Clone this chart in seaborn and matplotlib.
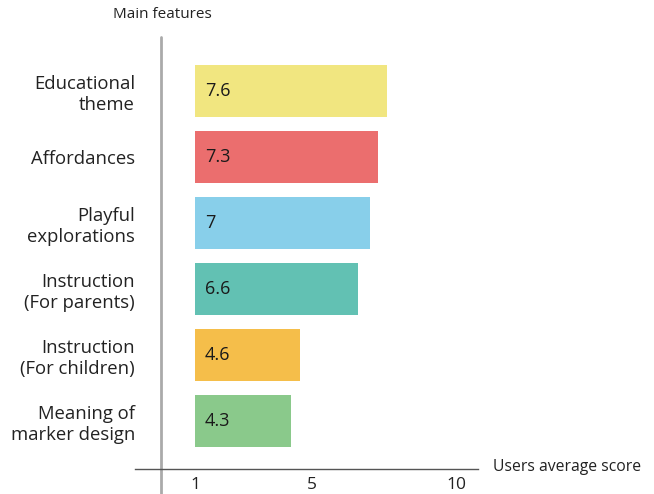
import matplotlib.pyplot as plt
import seaborn as sns
import pandas as pd

# Data
features = ["Educational\ntheme", "Affordances", "Playful\nexplorations",
            "Instruction\n(For parents)", "Instruction\n(For children)",
            "Meaning of\nmarker design"]
scores = [7.6, 7.3, 7.0, 6.6, 4.6, 4.3]
score_labels = ["7.6", "7.3", "7", "6.6", "4.6", "4.3"]
bar_colors = ["#F1E680", "#EB6E6E", "#88CFEA", "#62C1B3", "#F5BE4A", "#8AC98B"]
x_ticks = [1, 5, 10]
base = 1

sns.set_style("white")
plt.rcParams['font.family'] = ['Open Sans', 'DejaVu Sans']

df = pd.DataFrame({"feature": features, "score": scores})
df["length"] = df["score"] - base

fig = plt.figure(figsize=(6.54, 4.94), dpi=100)
ax = fig.add_axes([0.2064, 0.0506, 0.5245, 0.8745])

sns.barplot(data=df, x="length", y="feature", hue="feature", palette=bar_colors,
            orient="h", width=0.79, left=base, legend=False, ax=ax,
            saturation=1, linewidth=0)

ax.set_xlim(-1.07, 10.73)
ax.set_ylim(5.73, -0.82)

# value labels inside the bars
for i, lab in enumerate(score_labels):
    ax.text(base + 0.33, i, lab, va="center", ha="left", fontsize=13, color="#1a1a1a")

ax.set_xticks(x_ticks)
ax.set_xticklabels([str(t) for t in x_ticks], fontsize=12.5, color="#222222")
ax.tick_params(axis="x", length=0, pad=6)
ax.tick_params(axis="y", length=0, pad=0, labelsize=13.3, labelcolor="#222222")
for lbl in ax.get_yticklabels():
    lbl.set_multialignment("right")
    lbl.set_linespacing(1.22)

sns.despine(ax=ax, left=True, top=True, right=True)
ax.spines["bottom"].set_color("#555555")
ax.spines["bottom"].set_linewidth(1)

# vertical axis line, reaching below the x axis
ax.axvline(-0.17, ymin=-0.06, ymax=1.0, color="#aaaaaa", lw=2, clip_on=False)

ax.set_xlabel("")
ax.set_ylabel("")
fig.text(162 / 654, 1 - 15 / 494, "Main features", ha="center", va="center",
         fontsize=11, color="#222222")
fig.text(493 / 654, 1 - 467 / 494, "Users average score", ha="left", va="center",
         fontsize=11.3, color="#222222")

fig.savefig("out.png", dpi=100)
